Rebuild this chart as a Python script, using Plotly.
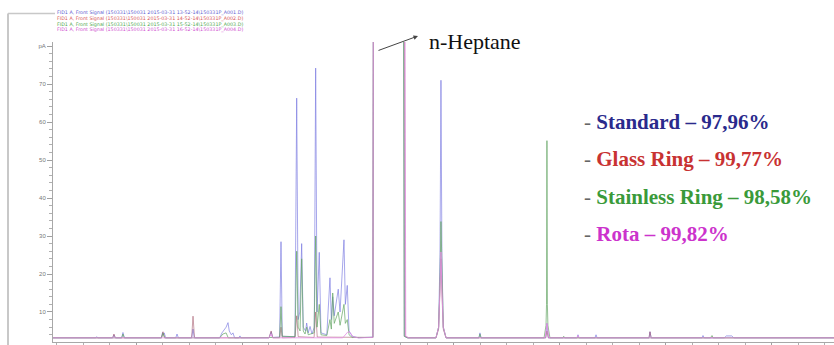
import plotly.graph_objects as go

# ---- data: chromatogram points (retention time [min], signal [pA]) ----
standard = [(0.217,3.2),(0.62,3.2),(0.629,3.5),(0.64,3.2),(0.78,3.2),(0.792,4.0),(0.805,3.2),
            (0.865,3.2),(0.877,4.6),(0.89,3.2),(1.24,3.2),(1.25,4.6),(1.258,3.9),(1.266,4.5),(1.28,3.2),
            (1.375,3.2),(1.387,4.2),(1.40,3.2),(1.525,3.2),(1.538,5.5),(1.55,3.2),
            (1.79,3.2),(1.811,4.5),(1.83,5.2),(1.85,6.0),(1.868,7.2),(1.88,5.0),(1.90,4.0),(1.915,4.5),(1.93,3.2),
            (1.97,3.2),(1.981,3.7),(1.99,3.2),(2.255,3.2),(2.275,4.8),(2.29,3.3),
            (2.355,3.4),(2.368,28.5),(2.38,3.6),(2.50,3.5),(2.516,66.3),(2.53,8.0),(2.545,10.0),(2.563,28.0),
            (2.578,6.0),(2.60,5.0),(2.61,7.1),(2.625,4.5),(2.642,6.2),(2.66,4.2),(2.682,6.0),(2.695,74.2),
            (2.708,10.0),(2.729,25.7),(2.745,4.5),(2.80,4.0),(2.83,19.0),(2.843,8.0),(2.856,14.0),(2.87,9.0),
            (2.908,16.0),(2.925,10.0),(2.962,29.0),(2.975,12.0),(2.993,17.0),(3.01,5.0),(3.04,3.6),(3.10,3.2),
            (3.235,3.4),(3.245,200),(3.52,200),(3.532,3.6),(3.56,3.2),
            (3.83,3.2),(3.855,6.0),(3.868,25.0),(3.877,71.0),(3.886,25.0),(3.899,6.0),(3.925,3.2),
            (4.235,3.2),(4.245,4.5),(4.255,3.2),(4.865,3.2),(4.877,7.0),(4.89,3.2),
            (5.16,3.2),(5.17,4.0),(5.18,3.2),(5.33,3.2),(5.34,4.0),(5.35,3.2),
            (5.84,3.2),(5.849,4.8),(5.86,3.2),(6.34,3.2),(6.349,3.8),(6.36,3.2),
            (6.55,3.2),(6.57,3.7),(6.62,3.7),(6.64,3.2),(7.585,3.2)]

glass_ring = [(0.217,3.2),(0.78,3.2),(0.792,4.2),(0.805,3.2),(1.24,3.2),(1.255,4.8),(1.27,3.2),
              (1.525,3.2),(1.538,8.9),(1.552,3.2),(2.255,3.2),(2.275,5.0),(2.29,3.2),
              (2.355,3.2),(2.368,6.0),(2.38,3.2),(2.50,3.3),(2.516,9.0),(2.53,3.5),
              (2.68,3.3),(2.695,10.0),(2.71,3.4),(3.235,3.3),(3.245,200),(3.525,200),(3.54,3.6),(3.57,3.2),
              (3.83,3.2),(3.855,5.5),(3.868,15.0),(3.877,24.0),(3.886,15.0),(3.899,5.5),(3.925,3.2),
              (4.865,3.2),(4.877,5.0),(4.89,3.2),(5.84,3.2),(5.849,4.8),(5.86,3.2),(7.585,3.2)]

stainless_ring = [(0.217,3.2),(0.865,3.2),(0.877,4.2),(0.89,3.2),(1.24,3.2),(1.255,4.4),(1.27,3.2),
                  (1.79,3.2),(1.82,4.2),(1.85,4.5),(1.87,3.2),(2.355,3.3),(2.368,11.4),(2.38,3.6),
                  (2.50,3.5),(2.516,26.0),(2.53,6.0),(2.548,5.0),(2.563,24.0),(2.578,5.0),(2.595,4.2),
                  (2.61,6.0),(2.625,4.0),(2.68,4.5),(2.695,30.0),(2.708,6.0),(2.729,12.0),(2.745,4.0),
                  (2.80,3.8),(2.83,8.0),(2.843,5.5),(2.856,15.0),(2.87,7.0),(2.908,10.0),(2.925,6.5),
                  (2.962,12.0),(2.975,7.0),(2.993,8.0),(3.01,4.0),(3.04,3.3),
                  (3.235,3.3),(3.245,200),(3.515,200),(3.53,3.6),(3.56,3.2),
                  (3.83,3.2),(3.855,6.0),(3.868,18.0),(3.877,33.8),(3.886,18.0),(3.899,6.0),(3.925,3.2),
                  (4.235,3.2),(4.245,4.2),(4.255,3.2),(4.85,3.2),(4.868,6.5),(4.873,12.0),(4.877,55.1),
                  (4.881,12.0),(4.886,6.5),(4.905,3.2),(5.028,3.2),(5.035,3.6),(5.045,3.2),
                  (6.42,3.2),(6.434,3.8),(6.445,3.2),(7.585,3.2)]

rota = [(0.217,3.2),(2.255,3.2),(2.275,4.2),(2.29,3.2),(2.95,3.2),(2.98,4.3),(3.0,4.8),(3.02,4.6),
        (3.05,3.4),(3.10,3.2),(3.235,3.3),(3.245,200),(3.528,200),(3.545,3.6),(3.575,3.2),
        (3.83,3.2),(3.855,6.0),(3.868,16.0),(3.877,25.8),(3.886,16.0),(3.899,6.0),(3.925,3.2),
        (4.86,3.2),(4.877,7.0),(4.895,3.2),(5.16,3.2),(5.17,3.8),(5.18,3.2),(7.585,3.2)]

series_names = ["Standard", "Glass Ring", "Stainless Ring", "Rota"]
purities = ["97,96%", "99,77%", "98,58%", "99,82%"]
y_tick_vals = [10, 20, 30, 40, 50, 60, 70, 80]
y_tick_text = ["10", "20", "30", "40", "50", "60", "70", "pA"]
header_files = ["FID1 A, Front Signal (150331\\150031 2015-03-31 13-52-14\\150331P_A001.D)",
                "FID1 A, Front Signal (150331\\150031 2015-03-31 14-52-14\\150331P_A002.D)",
                "FID1 A, Front Signal (150331\\150031 2015-03-31 15-52-14\\150331P_A003.D)",
                "FID1 A, Front Signal (150331\\150031 2015-03-31 16-52-14\\150331P_A004.D)"]

line_colors = ["rgba(120,120,225,0.65)", "rgba(160,80,100,0.55)",
               "rgba(100,165,100,0.7)", "rgba(230,140,230,0.8)"]
text_colors = ["#2a2a8c", "#c83232", "#3a9a3a", "#cc33cc"]
header_colors = ["#6060d0", "#d85858", "#50a850", "#d050d0"]

fig = go.Figure()
for data, name, col in zip([standard, glass_ring, stainless_ring, rota], series_names, line_colors):
    fig.add_trace(go.Scatter(x=[p[0] for p in data], y=[p[1] for p in data], mode="lines",
                             name=name, line=dict(color=col, width=1), showlegend=False,
                             hoverinfo="skip"))

W, H = 834, 345
L, R, T, B = 53, 0, 42, 3
pw, ph = W - L - R, H - T - B
def px(xp): return (xp - L) / pw
def py(yp): return (H - B - yp) / ph

fig.update_layout(
    width=W, height=H, margin=dict(l=L, r=R, t=T, b=B, autoexpand=False),
    paper_bgcolor="white", plot_bgcolor="white",
    xaxis=dict(range=[0.217, 7.585], showgrid=False, zeroline=False, showticklabels=False,
               automargin=False,
               showline=True, linecolor="#a8a8a8", linewidth=1,
               ticks="outside", tickmode="linear", tick0=0, dtick=1, ticklen=5, tickcolor="#a0a0a0",
               minor=dict(ticks="outside", tickmode="linear", tick0=0, dtick=0.25, ticklen=3,
                          tickcolor="#b0b0b0")),
    yaxis=dict(range=[2.1, 81.07], showgrid=False, zeroline=False, automargin=False,
               showline=True, linecolor="#a8a8a8", linewidth=1,
               ticks="outside", tickmode="array", tickvals=y_tick_vals, ticktext=y_tick_text,
               ticklen=5, tickcolor="#a0a0a0",
               tickfont=dict(size=6, color="#777777", family="Liberation Sans"),
               minor=dict(ticks="outside", tickmode="linear", tick0=0, dtick=2, ticklen=3,
                          tickcolor="#b0b0b0")),
)

# frame bracket at top-left
fig.add_shape(type="line", xref="paper", yref="paper", x0=px(8), x1=px(8), y0=py(13.5), y1=py(346),
              line=dict(color="#c8c8c8", width=2))
fig.add_shape(type="line", xref="paper", yref="paper", x0=px(8), x1=px(55), y0=py(13.5), y1=py(13.5),
              line=dict(color="#c8c8c8", width=1.5))

# header file names
for i, (txt, col) in enumerate(zip(header_files, header_colors)):
    fig.add_annotation(xref="paper", yref="paper", x=px(55), y=py(13.0 + 5.8 * i),
                       xanchor="left", yanchor="middle", text=txt, showarrow=False,
                       font=dict(size=4.8, color=col, family="DejaVu Sans"))

# purity labels
for i, (nm, pur, col) in enumerate(zip(series_names, purities, text_colors)):
    txt = (f"<span style='color:#666666'>- </span><b><span style='color:{col}'>{nm} – {pur}</span></b>")
    fig.add_annotation(xref="paper", yref="paper", x=px(582), y=py(121.7 + 37.5 * i),
                       xanchor="left", yanchor="middle", text=txt, showarrow=False,
                       font=dict(size=21, family="Liberation Serif", color=col))

# n-Heptane label and arrow
fig.add_annotation(xref="paper", yref="paper", x=px(427), y=py(41.7), xanchor="left", yanchor="middle",
                   text="n-Heptane", showarrow=False,
                   font=dict(size=22, family="Liberation Serif", color="#111111"))
fig.add_annotation(xref="paper", yref="paper", x=px(418), y=py(36), text="", showarrow=True,
                   ax=-41, ay=15, arrowhead=2, arrowsize=0.9, arrowwidth=1, arrowcolor="#444444",
                   standoff=0, startstandoff=0)

fig.write_html("out.html", config={"displayModeBar": False},
               post_script="document.body.style.margin='0';")
